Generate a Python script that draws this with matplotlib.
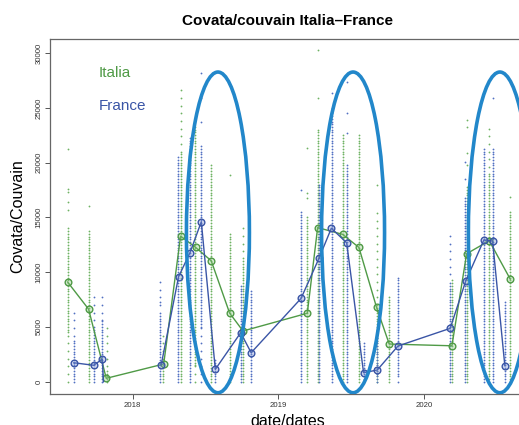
import numpy as np
import matplotlib.pyplot as plt
from matplotlib.patches import Ellipse

plt.rcParams['font.family'] = ['Liberation Sans', 'DejaVu Sans']

# mean per visit
it_dates = [2017.554, 2017.698, 2017.819, 2018.213, 2018.329, 2018.432, 2018.539,
            2018.665, 2018.757, 2019.198, 2019.269, 2019.440, 2019.552, 2019.673,
            2019.760, 2020.190, 2020.291, 2020.446, 2020.590]
it_means = [9100, 6620, 310, 1615, 13290, 12260, 11040,
            6270, 4630, 6250, 14070, 13450, 12260, 6790,
            3440, 3280, 11680, 12870, 9370]

fr_dates = [2017.597, 2017.733, 2017.792, 2018.196, 2018.315, 2018.393, 2018.471,
            2018.567, 2018.741, 2018.813, 2019.155, 2019.278, 2019.363, 2019.468,
            2019.584, 2019.678, 2019.820, 2020.178, 2020.284, 2020.409, 2020.469,
            2020.553]
fr_means = [1730, 1500, 2070, 1550, 9580, 11770, 14600,
            1130, 4470, 2650, 7600, 11260, 14010, 12680,
            820, 1070, 3260, 4870, 9160, 12930, 12840,
            1460]
# the 2017 France line runs down to zero (no marker there), then restarts in 2018
fr_drop_date = 2017.80
fr_drop_value = 0
fr_n_2017 = 3

# individual hives: column date, dense part (lo, hi), highest sparse value
it_col_dates = [2017.554, 2017.698, 2017.822, 2018.211, 2018.331, 2018.431, 2018.539,
                2018.665, 2018.755, 2019.198, 2019.272, 2019.440, 2019.552, 2019.673,
                2019.760, 2020.190, 2020.295, 2020.446, 2020.590]
it_col_lo = [4500, 0, 0, 0, 0, 1500, 0, 0, 0, 0, 0, 0, 0, 0, 0, 0, 0, 0, 0]
it_col_hi = [14100, 13900, 1200, 1500, 21100, 23400, 19800, 13700, 11300, 15000,
             23000, 22500, 22700, 7000, 7800, 9400, 17800, 19000, 15500]
it_col_top = [14100, 13900, 5300, 4500, 27100, 23400, 19800, 13700, 14000, 15000,
              23000, 22500, 22700, 15900, 7800, 9400, 17800, 23270, 15500]
it_out_dates = [2017.554, 2017.554, 2017.554, 2017.554, 2017.554, 2017.698, 2018.665,
                2019.198, 2019.198, 2019.198, 2019.272, 2019.272, 2019.673,
                2020.295, 2020.295, 2020.295, 2020.295, 2020.590]
it_out_vals = [15640, 16420, 17300, 17600, 21260, 16060, 18860,
               16760, 17250, 21300, 25860, 30260, 17950,
               19800, 20900, 23270, 23870, 16880]

fr_col_dates = [2017.597, 2017.733, 2017.792, 2018.190, 2018.313, 2018.392, 2018.472,
                2018.567, 2018.741, 2018.813, 2019.155, 2019.278, 2019.365, 2019.468,
                2019.584, 2019.679, 2019.820, 2020.178, 2020.280, 2020.410, 2020.469,
                2020.556]
fr_col_lo = [0, 0, 0, 0, 0, 0, 5000, 0, 0, 0, 0, 0, 0, 0, 0, 0, 500, 0, 0, 0, 0, 0]
fr_col_hi = [3800, 5000, 5500, 6100, 20700, 22400, 21600, 2000, 8800, 8400, 15500,
             18000, 25000, 19950, 3500, 4000, 9700, 9100, 16760, 21300, 21440, 7400]
fr_col_top = [6400, 7900, 7900, 9700, 20700, 22400, 21600, 2000, 8800, 8400, 15500,
              18000, 25000, 19950, 3500, 4000, 9700, 13500, 16760, 21300, 21440, 7400]
fr_out_dates = [2018.190, 2018.472, 2018.472, 2018.472, 2019.155, 2019.365,
                2019.468, 2019.468, 2019.468, 2020.280, 2020.280, 2020.469]
fr_out_vals = [7300, 23700, 25900, 28200, 17470, 26340,
               22700, 24500, 27370, 18500, 20080, 25860]

# highlighted summer periods
ell_dates = [2018.585, 2019.512, 2020.519]
ell_mid = 13630
ell_width = 0.432
ell_height = 29270

green = '#4f9a46'
blue = '#3a55a6'
green_dot = '#6fb363'
blue_dot = '#5270c2'


def hive_values(lo, hi, top):
    dense = np.arange(lo, hi + 1, 250)
    sparse = np.arange(0, top + 1, 700)
    sparse = sparse[(sparse < lo) | (sparse > hi)]
    return np.concatenate([dense, sparse])


fig = plt.figure(figsize=(5.19, 4.25), dpi=100)
ax = fig.add_axes([0.0963, 0.0729, 0.917, 0.835])

for d, lo, hi, top in zip(it_col_dates, it_col_lo, it_col_hi, it_col_top):
    v = hive_values(lo, hi, top)
    ax.plot(np.full(len(v), d), v, 'o', ms=1.3, mew=0, color=green_dot)
ax.plot(it_out_dates, it_out_vals, 'o', ms=1.3, mew=0, color=green_dot)

for d, lo, hi, top in zip(fr_col_dates, fr_col_lo, fr_col_hi, fr_col_top):
    v = hive_values(lo, hi, top)
    ax.plot(np.full(len(v), d), v, 'o', ms=1.3, mew=0, color=blue_dot)
ax.plot(fr_out_dates, fr_out_vals, 'o', ms=1.3, mew=0, color=blue_dot)

# mean lines
ax.plot(it_dates, it_means, '-', color=green, lw=1.0)
ax.plot(it_dates, it_means, 'o', ms=4.8, mfc=(0.55, 0.78, 0.5, 0.35), mec=green, mew=1.0)

ax.plot(fr_dates[:fr_n_2017] + [fr_drop_date], fr_means[:fr_n_2017] + [fr_drop_value],
        '-', color=blue, lw=1.0)
ax.plot(fr_dates[fr_n_2017:], fr_means[fr_n_2017:], '-', color=blue, lw=1.0)
ax.plot(fr_dates, fr_means, 'o', ms=4.8, mfc=(0.45, 0.55, 0.82, 0.35), mec=blue, mew=1.0)

for d in ell_dates:
    ax.add_patch(Ellipse((d, ell_mid), ell_width, ell_height, fill=False,
                         ec='#2287ca', lw=2.6, zorder=5))

ax.text(2017.769, 28190, 'Italia', color=green, fontsize=11, va='center')
ax.text(2017.769, 25150, 'France', color=blue, fontsize=11, va='center')

ax.set_xlim(2017.433, 2020.6975)
ax.set_ylim(-1122, 31268)
ax.set_xticks([2018, 2019, 2020])
ax.set_xticklabels(['2018', '2019', '2020'])
ax.set_yticks([0, 5000, 10000, 15000, 20000, 25000, 30000])
ax.tick_params(axis='both', direction='out', length=3.5, width=0.7,
               colors='#555555', labelsize=5.6, labelcolor='#333333', pad=2)
ax.tick_params(axis='y', labelrotation=90)
for lab in ax.get_yticklabels():
    lab.set_va('center')
for s in ax.spines.values():
    s.set_color('#666666')
    s.set_linewidth(0.9)

ax.set_title('Covata/couvain Italia\u2013France', fontsize=11, fontweight='bold', pad=10)
ax.set_xlabel('date/dates', fontsize=11.5, labelpad=4)
ax.set_ylabel('Covata/Couvain', fontsize=11.5, labelpad=7)

fig.savefig('out.png', dpi=100)
